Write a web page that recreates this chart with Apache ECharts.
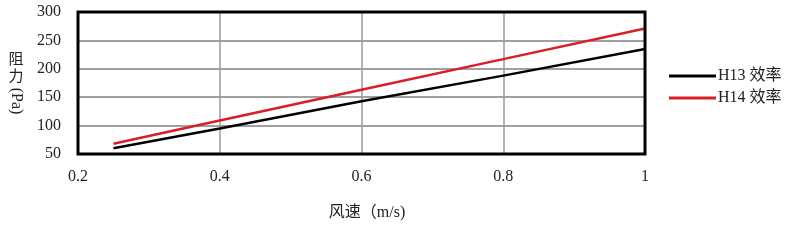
<!DOCTYPE html>
<html>
<head>
<meta charset="utf-8">
<script src="https://cdn.jsdelivr.net/npm/echarts@6/dist/echarts.min.js"></script>
<style>html,body{margin:0;padding:0;background:#fff}#c{width:785px;height:245px}</style>
</head>
<body>
<div id="c"></div>
<script>
var speeds = [0.25, 0.4, 0.6, 0.8, 1.0];
var h13 = [60, 95, 143, 188, 235];
var h14 = [68, 109, 163, 217, 271];
var seriesNames = ['H13 效率', 'H14 效率'];
var xName = '风速（m/s)';
var yNameParts = ['阻', '力', '(Pa)'];

var FONT = '"Liberation Serif", "Noto Sans CJK SC", serif';
var chart = echarts.init(document.getElementById('c'), null, {renderer: 'canvas'});
function pairs(ys){ return speeds.map(function(x,i){ return [x, ys[i]]; }); }
chart.setOption({
  animation: false,
  backgroundColor: '#fff',
  textStyle: {fontFamily: FONT},
  grid: {left: 78, right: 140, top: 12, bottom: 91, show: true, borderColor: '#000', borderWidth: 3, backgroundColor: 'transparent', z: 5},
  xAxis: {
    type: 'value', min: 0.2, max: 1, interval: 0.2,
    axisLine: {show: false}, axisTick: {show: false},
    splitLine: {show: true, lineStyle: {color: '#9a9a9a', width: 1.5}},
    axisLabel: {margin: 15, color: '#222', fontSize: 16, fontFamily: FONT},
    name: xName, nameLocation: 'middle', nameGap: 51,
    nameTextStyle: {color: '#222', fontSize: 16, fontFamily: FONT, padding: [0, 0, 0, 11]}
  },
  yAxis: {
    type: 'value', min: 50, max: 300, interval: 50,
    axisLine: {show: false}, axisTick: {show: false},
    splitLine: {show: true, lineStyle: {color: '#808080', width: 1.5}},
    axisLabel: {margin: 17, color: '#222', fontSize: 16, fontFamily: FONT}
  },
  legend: {
    orient: 'vertical', left: 664, top: 63,
    itemWidth: 47, itemHeight: 3, itemGap: 6, icon: 'rect',
    textStyle: {color: '#222', fontSize: 16, fontFamily: FONT, lineHeight: 16, padding: [0, 0, 0, -3]},
    data: seriesNames
  },
  graphic: [
    {type: 'text', x: 16, y: 60, style: {text: yNameParts[0], fontSize: 15, fontFamily: FONT, fill: '#222', align: 'center', verticalAlign: 'middle'}},
    {type: 'text', x: 16, y: 77, style: {text: yNameParts[1], fontSize: 15, fontFamily: FONT, fill: '#222', align: 'center', verticalAlign: 'middle'}},
    {type: 'text', x: 16, y: 101, rotation: -Math.PI/2, style: {text: yNameParts[2], fontSize: 16, fontFamily: FONT, fill: '#222', align: 'center', verticalAlign: 'middle'}}
  ],
  series: [
    {name: seriesNames[0], type: 'line', data: pairs(h13), showSymbol: false, symbol: 'none', color: '#000', lineStyle: {color: '#000', width: 2.5}, z: 3},
    {name: seriesNames[1], type: 'line', data: pairs(h14), showSymbol: false, symbol: 'none', color: '#d91e26', lineStyle: {color: '#d91e26', width: 2.5}, z: 3}
  ]
});
</script>
</body>
</html>
